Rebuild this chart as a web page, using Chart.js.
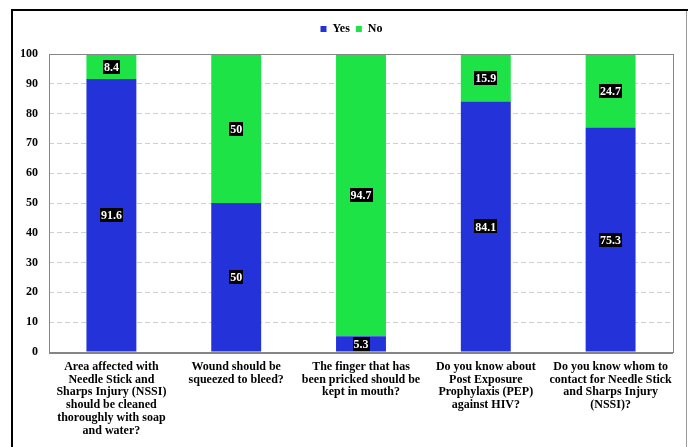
<!DOCTYPE html>
<html>
<head>
<meta charset="utf-8">
<script src="https://cdn.jsdelivr.net/npm/chart.js@4/dist/chart.umd.min.js"></script>
<style>
html,body{margin:0;padding:0;background:#fff;}
#wrap{width:688px;height:447px;position:relative;}
</style>
</head>
<body>
<div id="wrap"><canvas id="c" width="688" height="447"></canvas></div>
<script>
const categories = [
  ["Area affected with", "Needle Stick and", "Sharps Injury (NSSI)", "should be cleaned", "thoroughly with soap", "and water?"],
  ["Wound should be", "squeezed to bleed?"],
  ["The finger that has", "been pricked should be", "kept in mouth?"],
  ["Do you know about", "Post Exposure", "Prophylaxis (PEP)", "against HIV?"],
  ["Do you know whom to", "contact for Needle Stick", "and Sharps Injury", "(NSSI)?"]
];
const yesValues = [91.6, 50, 5.3, 84.1, 75.3];
const noValues = [8.4, 50, 94.7, 15.9, 24.7];
const seriesNames = ["Yes", "No"];

const FONT = "'Liberation Serif', 'Times New Roman', serif";

const frame = {
  id: 'frame',
  beforeLayout(chart) {
    const lg = chart.legend;
    if (lg && !lg._patched) {
      const f = lg.fit.bind(lg);
      lg.fit = function () { f(); this.height += 9; };
      lg._patched = true;
    }
  },
  afterLayout(chart) {
    const lg = chart.legend;
    if (lg) { lg.left += 15; lg.right += 15; }
  },
  beforeDraw(chart) {
    const ctx = chart.ctx;
    ctx.save();
    ctx.fillStyle = '#fff';
    ctx.fillRect(0, 0, chart.width, chart.height);
    ctx.strokeStyle = '#000';
    ctx.lineWidth = 2;
    ctx.beginPath();
    ctx.moveTo(12, chart.height);
    ctx.lineTo(12, 10);
    ctx.lineTo(chart.width, 10);
    ctx.stroke();
    ctx.strokeStyle = '#999';
    ctx.lineWidth = 1;
    ctx.beginPath();
    ctx.moveTo(686.5, 11);
    ctx.lineTo(686.5, chart.height);
    ctx.stroke();
    ctx.restore();
  },
  afterDatasetsDraw(chart) {
    const ctx = chart.ctx;
    const a = chart.chartArea;
    ctx.save();
    ctx.strokeStyle = '#858585';
    ctx.lineWidth = 1;
    ctx.strokeRect(Math.round(a.left) + 0.5, Math.round(a.top) + 0.5, Math.round(a.right - a.left), Math.round(a.bottom - a.top));
    ctx.beginPath();
    ctx.lineWidth = 2;
    ctx.moveTo(a.left, Math.round(a.bottom) + 1);
    ctx.lineTo(a.right, Math.round(a.bottom) + 1);
    ctx.stroke();
    ctx.font = "bold 12px " + FONT;
    ctx.textAlign = 'center';
    ctx.textBaseline = 'middle';
    chart.data.datasets.forEach((ds, di) => {
      const meta = chart.getDatasetMeta(di);
      meta.data.forEach((el, i) => {
        const v = ds.data[i];
        const p = el.getProps(['x', 'y', 'base'], true);
        const cy = (p.y + p.base) / 2;
        const txt = String(v);
        const w = ctx.measureText(txt).width + 2;
        const h = 14;
        ctx.fillStyle = '#000';
        ctx.fillRect(Math.round(p.x - w / 2), Math.round(cy - h / 2), Math.round(w), h);
        ctx.fillStyle = '#fff';
        ctx.fillText(txt, p.x, cy + 1);
      });
    });
    ctx.restore();
  }
};

new Chart(document.getElementById('c'), {
  type: 'bar',
  data: {
    labels: categories,
    datasets: [
      { label: seriesNames[0], data: yesValues, backgroundColor: '#2432D9', borderWidth: 0 },
      { label: seriesNames[1], data: noValues, backgroundColor: '#1DE346', borderWidth: 0 }
    ]
  },
  options: {
    responsive: false,
    animation: false,
    devicePixelRatio: 1,
    layout: { padding: { top: 17, right: 15, left: 0, bottom: 0 } },
    datasets: { bar: { categoryPercentage: 1, barPercentage: 0.4 } },
    plugins: {
      legend: {
        position: 'top',
        labels: {
          boxWidth: 6, boxHeight: 6, padding: 6, color: '#000',
          font: { family: FONT, size: 12, weight: 'bold' }
        }
      },
      tooltip: { enabled: false }
    },
    scales: {
      x: {
        stacked: true,
        grid: { display: false, drawTicks: false },
        border: { display: false },
        afterFit(s) { s.height = 95; },
        ticks: {
          color: '#000', maxRotation: 0, minRotation: 0, autoSkip: false, padding: 8,
          font: { family: FONT, size: 12, weight: 'bold', lineHeight: 1.08 }
        }
      },
      y: {
        stacked: true,
        min: 0, max: 100,
        afterFit(s) { s.width = 49; },
        border: { display: false, dash: [5, 3] },
        grid: { color: '#d0d0d0', drawTicks: false },
        ticks: {
          stepSize: 10, padding: 11, color: '#000',
          font: { family: FONT, size: 12, weight: 'bold' }
        }
      }
    }
  },
  plugins: [frame]
});
</script>
</body>
</html>
